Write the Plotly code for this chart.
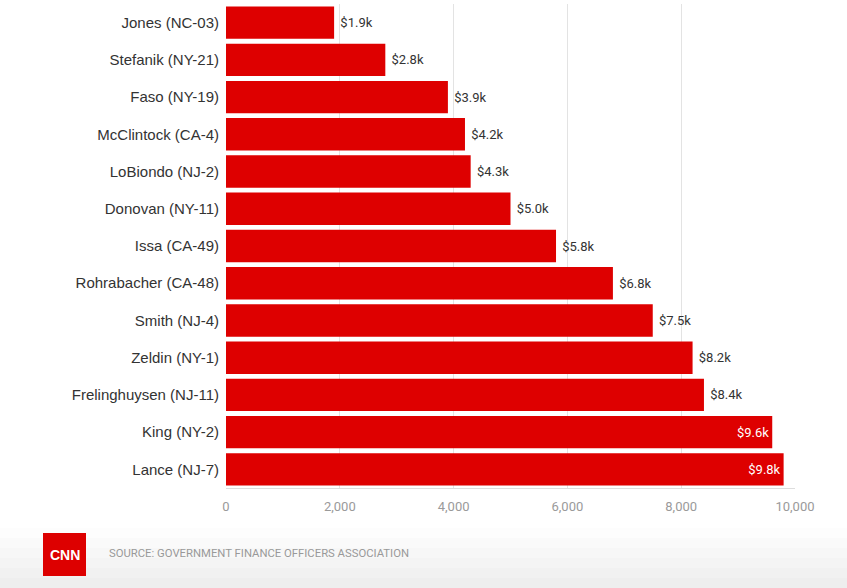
import plotly.graph_objects as go

# Representatives and their values (top to bottom as displayed)
names = [
    "Jones (NC-03)", "Stefanik (NY-21)", "Faso (NY-19)", "McClintock (CA-4)",
    "LoBiondo (NJ-2)", "Donovan (NY-11)", "Issa (CA-49)", "Rohrabacher (CA-48)",
    "Smith (NJ-4)", "Zeldin (NY-1)", "Frelinghuysen (NJ-11)", "King (NY-2)",
    "Lance (NJ-7)",
]
values = [1900, 2800, 3900, 4200, 4300, 5000, 5800, 6800, 7500, 8200, 8400, 9600, 9800]
x_ticks = [0, 2000, 4000, 6000, 8000, 10000]
x_tick_labels = ["0", "2,000", "4,000", "6,000", "8,000", "10,000"]

RED = "#de0000"

positions = ["inside" if v >= 9000 else "outside" for v in values]
labels = [
    (f"${v / 1000:.1f}k" if p == "inside" else f" ${v / 1000:.1f}k")
    for v, p in zip(values, positions)
]

fig = go.Figure(
    go.Bar(
        x=values,
        y=names,
        orientation="h",
        marker=dict(color=RED, line=dict(width=0)),
        text=labels,
        textposition=positions,
        insidetextanchor="end",
        outsidetextfont=dict(family="Roboto", size=13, color="#333333"),
        insidetextfont=dict(family="Roboto", size=13, color="#ffffff"),
        cliponaxis=False,
        hoverinfo="skip",
    )
)

fig.update_layout(
    width=847,
    height=588,
    margin=dict(l=226, r=52, t=4, b=100),
    paper_bgcolor="#ffffff",
    plot_bgcolor="#ffffff",
    bargap=0.13,
    showlegend=False,
    font=dict(family="Roboto", color="#333333"),
    xaxis=dict(
        range=[0, 10000],
        tickvals=x_ticks,
        ticktext=x_tick_labels,
        showgrid=True,
        gridcolor="#e3e3e3",
        gridwidth=1,
        zeroline=False,
        showline=True,
        linecolor="#dddddd",
        linewidth=1,
        ticks="",
        ticklabelstandoff=6,
        tickfont=dict(family="Roboto", size=13, color="#9a9a9a"),
        fixedrange=True,
    ),
    yaxis=dict(
        categoryorder="array",
        categoryarray=names[::-1],
        autorange=True,
        showgrid=False,
        zeroline=False,
        ticks="outside",
        ticklen=3,
        tickcolor="rgba(0,0,0,0)",
        tickfont=dict(family="Liberation Sans", size=15, color="#333333"),
        fixedrange=True,
    ),
)

# Pixel helpers relative to the plot area (226..795 x, 4..488 y)
px_w, px_h = 569.0, 484.0


def px_x(x):
    return (x - 226) / px_w


def px_y(y):
    return (488 - y) / px_h


# Light footer band fading towards the bottom edge
greys = ["#fdfdfd", "#fafafa", "#f7f7f7", "#f4f4f4", "#f1f1f1", "#eeeeee"]
band_top = 528
step = (588 - band_top) / len(greys)
for i, g in enumerate(greys):
    y0 = band_top + i * step
    y1 = y0 + step + 0.5
    fig.add_shape(
        type="rect", xref="paper", yref="paper",
        x0=px_x(0), x1=px_x(847),
        y0=px_y(y1), y1=px_y(y0),
        fillcolor=g, line=dict(width=0), layer="below",
    )

# CNN logo block
fig.add_shape(
    type="rect", xref="paper", yref="paper",
    x0=px_x(43), x1=px_x(86), y0=px_y(576), y1=px_y(533),
    fillcolor="#dd0000", line=dict(width=0),
)
fig.add_annotation(
    xref="paper", yref="paper", x=px_x(64.5), y=px_y(554.5),
    text="<b>CNN</b>", showarrow=False,
    font=dict(family="Liberation Sans Narrow, Liberation Sans", size=14, color="#ffffff"),
    xanchor="center", yanchor="middle",
)
fig.add_annotation(
    xref="paper", yref="paper", x=px_x(107), y=px_y(554),
    text="SOURCE: GOVERNMENT FINANCE OFFICERS ASSOCIATION", showarrow=False,
    font=dict(family="Roboto", size=11.3, color="#999999"),
    xanchor="left", yanchor="middle",
)

fig.write_html("out.html")
